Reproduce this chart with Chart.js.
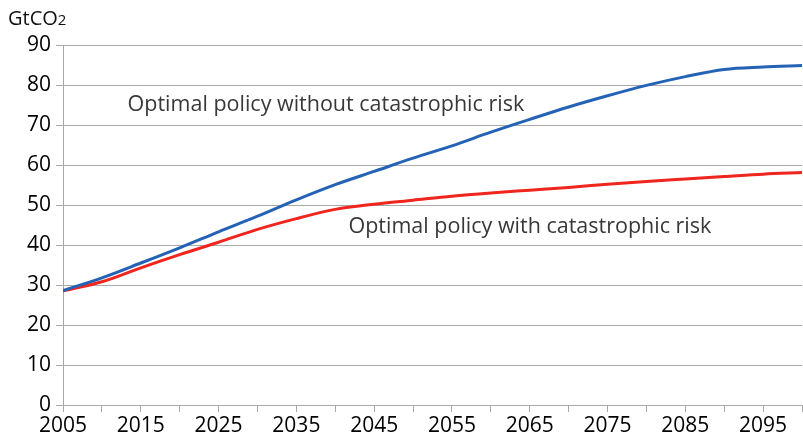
<!DOCTYPE html>
<html>
<head>
<meta charset="utf-8">
<script src="https://cdn.jsdelivr.net/npm/chart.js@4/dist/chart.umd.min.js"></script>
<style>
  html, body { margin: 0; padding: 0; background: #fff; }
  #wrap { width: 803px; height: 441px; position: relative; }
</style>
</head>
<body>
<div id="wrap"><canvas id="co2Chart" width="803" height="441"></canvas></div>
<script>
// years every 5 from 2005 to 2100
const years = [2005, 2010, 2015, 2020, 2025, 2030, 2035, 2040, 2045, 2050,
               2055, 2060, 2065, 2070, 2075, 2080, 2085, 2090, 2095, 2100];
const noRisk = [28.6, 31.8, 35.5, 39.3, 43.3, 47.2, 51.3, 55.1, 58.4, 61.7,
                64.8, 68.2, 71.4, 74.5, 77.3, 79.9, 82.1, 83.9, 84.5, 84.9];
const withRisk = [28.5, 30.8, 34.3, 37.6, 40.7, 43.9, 46.6, 48.9, 50.2, 51.2,
                  52.2, 53.0, 53.7, 54.4, 55.2, 55.9, 56.5, 57.1, 57.7, 58.1];
const seriesNames = ["Optimal policy without catastrophic risk", "Optimal policy with catastrophic risk"];
// where the in-chart labels sit (data coords: left year, middle value)
const labelSpots = [[2013.3, 75.0], [2041.7, 44.5]];
const unitText = ["GtCO", "2"];

const FONT = "'Open Sans', 'Noto Sans', sans-serif";
const gridGrey = "#a9a9a9";

const labelsPlugin = {
    id: "inlineLabels",
    afterDraw(chart) {
        const c = chart.ctx;
        const xs = chart.scales.x, ys = chart.scales.y;
        c.save();
        c.fillStyle = "#383838";
        c.font = "21.5px " + FONT;
        c.textBaseline = "middle";
        c.textAlign = "left";
        seriesNames.forEach((name, i) => {
            c.fillText(name, xs.getPixelForValue(labelSpots[i][0]), ys.getPixelForValue(labelSpots[i][1]));
        });
        // unit label top-left
        c.fillStyle = "#111";
        c.font = "20px " + FONT;
        c.textBaseline = "alphabetic";
        c.fillText(unitText[0], 8, 25);
        const w = c.measureText(unitText[0]).width;
        c.font = "15px " + FONT;
        c.fillText(unitText[1], 8 + w, 25);
        c.restore();
    }
};

const ctx = document.getElementById("co2Chart");

new Chart(ctx, {
    type: "line",
    data: {
        datasets: [
            {
                label: seriesNames[0],
                data: years.map((y, i) => ({ x: y, y: noRisk[i] })),
                borderColor: "#2462b6",
                borderWidth: 3,
                pointRadius: 0,
                cubicInterpolationMode: "monotone",
                fill: false
            },
            {
                label: seriesNames[1],
                data: years.map((y, i) => ({ x: y, y: withRisk[i] })),
                borderColor: "#f0261e",
                borderWidth: 3,
                pointRadius: 0,
                cubicInterpolationMode: "monotone",
                fill: false
            }
        ]
    },
    options: {
        responsive: false,
        animation: false,
        layout: { padding: { top: 45, right: 0, left: 0, bottom: 0 } },
        plugins: {
            legend: { display: false },
            tooltip: { enabled: false }
        },
        scales: {
            x: {
                type: "linear",
                min: 2005,
                max: 2100,
                afterFit: s => { s.height = 36; },
                grid: {
                    drawOnChartArea: false,
                    drawTicks: true,
                    tickLength: 7,
                    color: gridGrey
                },
                border: { color: gridGrey },
                ticks: {
                    stepSize: 5,
                    autoSkip: false,
                    maxRotation: 0,
                    padding: 1,
                    color: "#000",
                    font: { family: FONT, size: 21 },
                    callback: v => ((v - 2005) % 10 === 0 ? String(v) : "")
                }
            },
            y: {
                min: 0,
                max: 90,
                afterFit: s => { s.width = 63; },
                grid: {
                    color: gridGrey,
                    tickLength: 7
                },
                border: { color: gridGrey },
                ticks: {
                    stepSize: 10,
                    padding: 5,
                    color: "#000",
                    font: { family: FONT, size: 21 }
                }
            }
        }
    },
    plugins: [labelsPlugin]
});
</script>
</body>
</html>
